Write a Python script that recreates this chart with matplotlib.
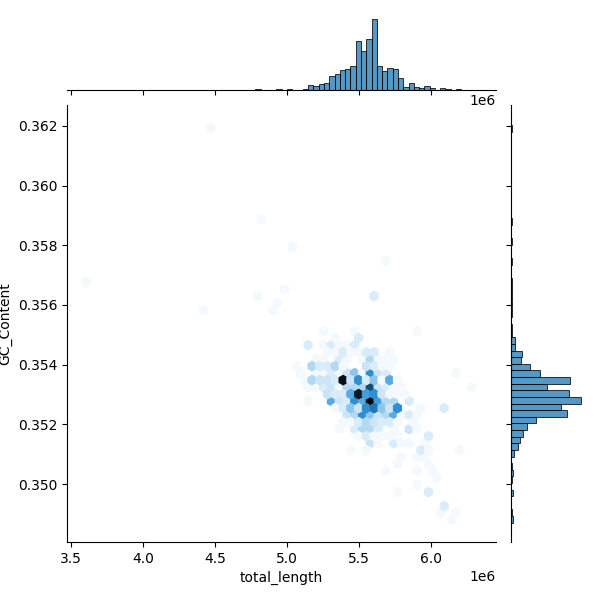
import colorsys

import matplotlib
matplotlib.use("Agg")
import matplotlib.pyplot as plt
import numpy as np
from matplotlib.colors import LinearSegmentedColormap, to_rgb

# total_length histogram, counts per bin (left to right)
length_counts = [1, 0, 0, 0, 1, 0, 1, 0, 0, 1, 5, 4, 6, 7, 14, 16, 20, 21, 24, 49,
                 39, 51, 71, 24, 19, 22, 21, 12, 3, 7, 3, 2, 4, 2, 0, 2, 1, 0, 1]
length_start = 4.780e6
length_width = 0.03667e6

# GC_Content histogram, counts per bin (bottom to top)
gc_counts = [2, 1, 0, 0, 2, 0, 1, 2, 1, 0, 3, 7, 9, 12, 16, 25, 56, 50, 70, 58,
             36, 59, 29, 19, 10, 11, 4, 4, 1, 1, 0, 1, 1, 1, 1, 1, 1, 0, 0, 1,
             0, 0, 1, 0, 0, 1, 0, 0, 0, 0, 0, 0, 0, 0, 0, 0, 0, 0, 0, 1]
gc_start = 0.348706
gc_width = 0.0002218

# hexagon cells, one entry per row: GC_Content, total_length (millions), shade
row_y = [0.362050, 0.358935, 0.357987, 0.357517, 0.356791, 0.356566, 0.356322,
         0.356097, 0.355853,
         0.355125, 0.354891, 0.354656, 0.354422, 0.354187, 0.353953, 0.353718,
         0.353484, 0.353249, 0.353015, 0.352780, 0.352546, 0.352311, 0.352077,
         0.351842, 0.351608, 0.351373, 0.351139, 0.350904, 0.350670, 0.350435,
         0.350201, 0.349966, 0.349732, 0.349263, 0.349028, 0.348794]
row_x = [
    [4.465], [4.819], [5.035], [5.688], [3.597], [4.981], [4.792, 5.604], [4.928], [4.410, 4.901],
    [5.254, 5.470, 5.902],
    [5.335, 5.497],
    [5.146, 5.254, 5.308, 5.362, 5.416, 5.470],
    [5.281, 5.335, 5.389, 5.443, 5.497, 5.551, 5.605, 5.713],
    [5.200, 5.254, 5.362, 5.416, 5.524, 5.578, 5.632, 5.686, 5.740],
    [5.065, 5.173, 5.227, 5.281, 5.335, 5.389, 5.551, 5.605, 5.659, 5.713],
    [5.092, 5.200, 5.254, 5.308, 5.362, 5.416, 5.470, 5.524, 5.578, 5.632, 5.686, 6.172],
    [5.119, 5.173, 5.227, 5.281, 5.335, 5.389, 5.443, 5.497, 5.551, 5.605, 5.659, 5.713, 5.767],
    [5.146, 5.200, 5.254, 5.308, 5.362, 5.416, 5.470, 5.524, 5.578, 5.632, 5.686, 5.740, 5.794, 6.280],
    [5.281, 5.335, 5.389, 5.443, 5.497, 5.551, 5.605, 5.659, 5.713, 5.767, 5.821],
    [5.146, 5.308, 5.362, 5.416, 5.470, 5.524, 5.578, 5.632, 5.686, 5.740, 5.848],
    [5.335, 5.389, 5.443, 5.497, 5.551, 5.605, 5.659, 5.713, 5.767, 5.929, 6.091],
    [5.416, 5.470, 5.524, 5.578, 5.632, 5.686, 5.740, 5.794, 5.848, 5.902],
    [5.389, 5.443, 5.497, 5.551, 5.605, 5.659, 5.713, 5.767, 5.875],
    [5.362, 5.470, 5.524, 5.578, 5.632, 5.740, 5.848, 5.902],
    [5.497, 5.551, 5.605, 5.659, 5.713, 5.767, 5.983],
    [5.578, 5.632, 5.740, 5.794, 5.848, 5.956],
    [5.443, 5.551, 5.929, 5.983, 6.199],
    [5.794, 5.902, 5.956],
    [5.767, 5.983],
    [5.686, 5.902, 6.010],
    [6.037],
    [5.902],
    [5.767, 5.983],
    [6.091],
    [6.064, 6.172],
    [6.145],
]
row_n = [
    [1], [1], [1], [1], [1], [1], [1, 3], [1], [1, 1],
    [1, 1, 1],
    [1, 3],
    [3, 1, 3, 1, 1, 3],
    [1, 1, 3, 1, 1, 3, 3, 1],
    [1, 1, 3, 1, 1, 6, 1, 1, 1],
    [1, 6, 3, 3, 6, 1, 4, 3, 1, 1],
    [1, 1, 1, 3, 1, 4, 9, 1, 17, 4, 3, 1],
    [1, 6, 4, 4, 3, 32, 4, 17, 3, 9, 1, 13, 1],
    [1, 1, 3, 4, 1, 6, 6, 6, 25, 4, 3, 1, 1, 1],
    [4, 3, 3, 13, 31, 15, 17, 4, 1, 1, 1],
    [1, 13, 4, 3, 17, 13, 34, 15, 6, 6, 3],
    [1, 3, 9, 4, 17, 20, 9, 4, 17, 1, 3],
    [4, 6, 17, 9, 4, 6, 13, 1, 3, 1],
    [1, 1, 3, 6, 4, 3, 3, 1, 1],
    [1, 3, 6, 6, 3, 1, 4, 1],
    [1, 3, 1, 1, 1, 1, 3],
    [4, 1, 3, 1, 1, 1],
    [1, 1, 3, 1, 1],
    [1, 1, 1],
    [1, 1],
    [1, 1, 1],
    [1],
    [1],
    [1, 3],
    [3],
    [1, 1],
    [1],
]

# same light-to-dark ramp of the default blue that seaborn uses for hexbins
hue, _, sat = colorsys.rgb_to_hls(*to_rgb("C0"))
ramp = [colorsys.hls_to_rgb(hue, l, sat) for l in np.linspace(1, 0, 12)]
hex_cmap = LinearSegmentedColormap.from_list("blues", ramp, N=256)

hex_x = np.concatenate(row_x) * 1e6
hex_y = np.repeat(row_y, [len(r) for r in row_x])
hex_n = np.concatenate(row_n)

fig = plt.figure(figsize=(6, 6), dpi=100)

ax_joint = fig.add_axes([67 / 600, 58 / 600, 429 / 600, 437 / 600])
ax_top = fig.add_axes([67 / 600, 510 / 600, 429 / 600, 74 / 600], sharex=ax_joint)
ax_right = fig.add_axes([511 / 600, 58 / 600, 74 / 600, 437 / 600], sharey=ax_joint)

ax_joint.hexbin(hex_x, hex_y, C=hex_n, reduce_C_function=np.sum,
                gridsize=(50, 30), extent=(3.58e6, 6.28e6, 0.348559, 0.362629),
                cmap=hex_cmap, vmin=0, vmax=34)

x_left = length_start + length_width * np.arange(len(length_counts))
keep = np.array(length_counts) > 0
ax_top.bar(x_left[keep], np.array(length_counts)[keep], width=length_width, align="edge",
           color="C0", edgecolor="black", linewidth=0.75, alpha=0.75)

y_low = gc_start + gc_width * np.arange(len(gc_counts))
keep = np.array(gc_counts) > 0
ax_right.barh(y_low[keep], np.array(gc_counts)[keep], height=gc_width, align="edge",
              color="C0", edgecolor="black", linewidth=0.75, alpha=0.75)

ax_joint.set_xlim(3.472e6, 6.451e6)
ax_joint.set_ylim(0.34806, 0.36270)
ax_top.set_ylim(0, 74.5)
ax_right.set_xlim(0, 74.5)

ax_joint.set_xlabel("total_length")
ax_joint.set_ylabel("GC_Content")

plt.setp(ax_top.get_xticklabels(), visible=False)
plt.setp(ax_right.get_yticklabels(), visible=False)
ax_top.tick_params(axis="y", left=False, labelleft=False)
ax_right.tick_params(axis="x", bottom=False, labelbottom=False)

for spine in ["top", "right"]:
    ax_joint.spines[spine].set_visible(False)
    ax_top.spines[spine].set_visible(False)
    ax_right.spines[spine].set_visible(False)
ax_top.spines["left"].set_visible(False)
ax_right.spines["bottom"].set_visible(False)

fig.savefig("out.png", dpi=100)
